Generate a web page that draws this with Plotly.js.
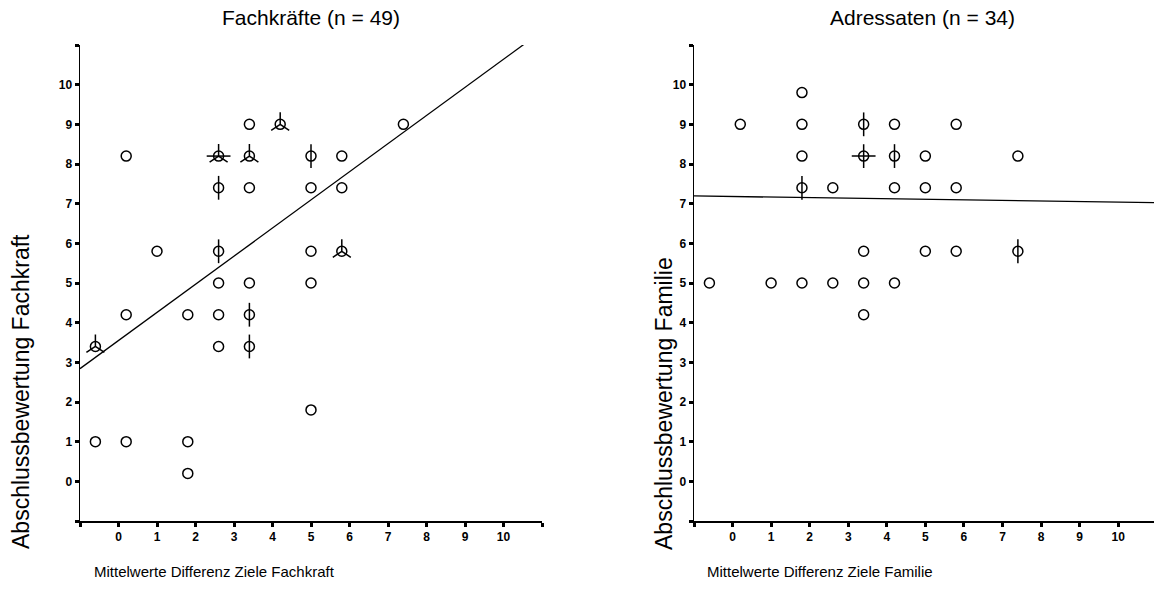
<!DOCTYPE html>
<html>
<head>
<meta charset="utf-8">
<script src="https://cdn.plot.ly/plotly-3.0.1.min.js"></script>
<style>html,body{margin:0;padding:0;background:#fff;}#chart{width:1154px;height:603px;}</style>
</head>
<body>
<div id="chart"></div>
<script>
// ---- Data ----
// Left panel: Fachkräfte
const xLeft = [-0.6,-0.6,0.2,0.2,0.2,1.0,1.8,1.8,1.8,2.6,2.6,2.6,2.6,2.6,2.6,3.4,3.4,3.4,3.4,3.4,3.4,4.2,5.0,5.0,5.0,5.0,5.0,5.8,5.8,5.8,7.4];
const yLeft = [1.0,3.4,8.2,4.2,1.0,5.8,4.2,1.0,0.2,8.2,7.4,5.8,5.0,4.2,3.4,9.0,8.2,7.4,5.0,4.2,3.4,9.0,8.2,7.4,5.8,5.0,1.8,8.2,7.4,5.8,9.0];
const nLeft = [1,3,1,1,1,1,1,1,1,5,2,2,1,1,1,1,3,1,1,2,2,3,2,1,1,1,1,1,1,3,1];
const fitLeft = {intercept: 3.55, slope: 0.709};

// Right panel: Adressaten
const xRight = [-0.6,0.2,1.0,1.8,1.8,1.8,1.8,1.8,2.6,2.6,3.4,3.4,3.4,3.4,3.4,4.2,4.2,4.2,4.2,5.0,5.0,5.0,5.8,5.8,5.8,7.4,7.4];
const yRight = [5.0,9.0,5.0,9.8,9.0,8.2,7.4,5.0,7.4,5.0,9.0,8.2,5.8,5.0,4.2,9.0,8.2,7.4,5.0,8.2,7.4,5.8,9.0,7.4,5.8,8.2,5.8];
const nRight = [1,1,1,1,1,1,2,1,1,1,2,4,1,1,1,1,2,1,1,1,1,1,1,1,1,1,2];
const fitRight = {intercept: 7.18, slope: -0.014};

const tickVals = [-1,0,1,2,3,4,5,6,7,8,9,10,11];
const tickText = ['','0','1','2','3','4','5','6','7','8','9','10',''];

const titleLeft = 'Fachkräfte (n = 49)';
const titleRight = 'Adressaten (n = 34)';
const xTitleLeft = 'Mittelwerte Differenz Ziele Fachkraft';
const xTitleRight = 'Mittelwerte Differenz Ziele Familie';
const yTitleLeft = 'Abschlussbewertung Fachkraft';
const yTitleRight = 'Abschlussbewertung Familie';

// ---- Build traces ----
const W = 1154, H = 603;
const BLACK = '#000';
const petalStyles = {
  2: [{symbol: 'line-ns-open', size: 17}],
  3: [{symbol: 'y-up-open', size: 15}],
  4: [{symbol: 'cross-thin-open', size: 17}],
  5: [{symbol: 'y-up-open', size: 15}, {symbol: 'line-ew-open', size: 17}]
};

function panelTraces(xs, ys, ns, fit, xa, ya) {
  const traces = [];
  const lx = [-1, 11];
  traces.push({
    x: lx, y: lx.map(v => fit.intercept + fit.slope * v),
    xaxis: xa, yaxis: ya, mode: 'lines', type: 'scatter',
    line: {color: BLACK, width: 1.3}, hoverinfo: 'skip', showlegend: false
  });
  traces.push({
    x: xs, y: ys, xaxis: xa, yaxis: ya, mode: 'markers', type: 'scatter',
    marker: {symbol: 'circle-open', size: 10, color: BLACK, line: {color: BLACK, width: 1.5}},
    showlegend: false, cliponaxis: false
  });
  Object.keys(petalStyles).forEach(k => {
    const cnt = +k;
    const px = [], py = [];
    xs.forEach((v, i) => { if (ns[i] === cnt) { px.push(v); py.push(ys[i]); } });
    if (!px.length) return;
    petalStyles[k].forEach(st => {
      traces.push({
        x: px, y: py, xaxis: xa, yaxis: ya, mode: 'markers', type: 'scatter',
        marker: {symbol: st.symbol, size: st.size, color: BLACK, line: {color: BLACK, width: 1.5}},
        showlegend: false, hoverinfo: 'skip', cliponaxis: false
      });
    });
  });
  return traces;
}

const data = [].concat(
  panelTraces(xLeft, yLeft, nLeft, fitLeft, 'x', 'y'),
  panelTraces(xRight, yRight, nRight, fitRight, 'x2', 'y2')
);

const px = v => v / W;
const py = v => 1 - v / H;

const tickFont = {family: 'Liberation Sans, Arial, sans-serif', size: 12, color: BLACK, weight: 'bold'};
function xAxis(domain, range) {
  return {
    domain: domain, range: range, showgrid: false, zeroline: false,
    showline: true, linecolor: BLACK, linewidth: 1.5,
    ticks: 'outside', ticklen: 4, tickwidth: 3, tickcolor: BLACK,
    tickmode: 'array', tickvals: tickVals, ticktext: tickText,
    tickfont: tickFont, fixedrange: true
  };
}
function yAxis(domain, anchor) {
  return {
    domain: domain, range: [-1, 11], anchor: anchor, showgrid: false, zeroline: false,
    showline: true, linecolor: BLACK, linewidth: 1.5,
    ticks: 'outside', ticklen: 4, tickwidth: 3, tickcolor: BLACK,
    tickmode: 'array', tickvals: tickVals, ticktext: tickText,
    tickfont: tickFont, fixedrange: true
  };
}

const yDom = [py(521), py(45)];
const layout = {
  width: W, height: H, autosize: false,
  margin: {l: 0, r: 0, t: 0, b: 0, pad: 0},
  paper_bgcolor: '#fff', plot_bgcolor: '#fff',
  showlegend: false,
  font: {family: 'Liberation Sans, Arial, sans-serif', color: BLACK},
  xaxis: Object.assign(xAxis([px(80), px(542)], [-1, 11]), {anchor: 'y'}),
  yaxis: yAxis(yDom, 'x'),
  xaxis2: Object.assign(xAxis([px(694), 1], [-1, 10.93]), {anchor: 'y2'}),
  yaxis2: yAxis(yDom, 'x2'),
  annotations: [
    {text: titleLeft, xref: 'paper', yref: 'paper', x: px(311), y: py(18), xanchor: 'center', yanchor: 'middle', showarrow: false, font: {size: 21, color: BLACK}},
    {text: titleRight, xref: 'paper', yref: 'paper', x: px(922), y: py(18), xanchor: 'center', yanchor: 'middle', showarrow: false, font: {size: 21, color: BLACK}},
    {text: xTitleLeft, xref: 'paper', yref: 'paper', x: px(92), y: py(571), xanchor: 'left', yanchor: 'middle', showarrow: false, font: {size: 15, color: BLACK}},
    {text: xTitleRight, xref: 'paper', yref: 'paper', x: px(705), y: py(571), xanchor: 'left', yanchor: 'middle', showarrow: false, font: {size: 15, color: BLACK}},
    {text: yTitleLeft, xref: 'paper', yref: 'paper', x: px(21), y: py(392), xanchor: 'center', yanchor: 'middle', textangle: -90, showarrow: false, font: {size: 23, color: BLACK}},
    {text: yTitleRight, xref: 'paper', yref: 'paper', x: px(664), y: py(404), xanchor: 'center', yanchor: 'middle', textangle: -90, showarrow: false, font: {size: 23, color: BLACK}}
  ]
};

Plotly.newPlot('chart', data, layout, {displayModeBar: false, staticPlot: true});
</script>
</body>
</html>
